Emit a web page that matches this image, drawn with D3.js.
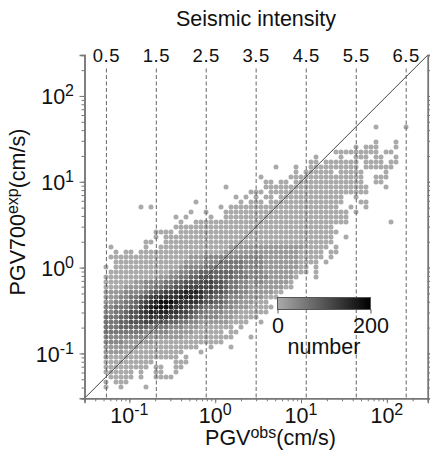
<!DOCTYPE html>
<html>
<head>
<meta charset="utf-8">
<script src="https://cdn.jsdelivr.net/npm/d3@7"></script>
<style>
  body { margin: 0; background: #fff; }
  text { font-family: "Liberation Sans", Arial, sans-serif; fill: #111; }
</style>
</head>
<body>
<div id="chart"></div>
<script>
// Define dimensions
var svgWidth = 430;
var svgHeight = 450;

// Seismic intensity boundaries
var intensityLabels = ["0.5", "1.5", "2.5", "3.5", "4.5", "5.5", "6.5"];
var intensityPgv = [0.054, 0.206, 0.786, 3.0, 11.5, 44, 168];

// Axis ticks
var decadeTicks = [0.1, 1, 10, 100];
var decadeExponents = ["-1", "0", "1", "2"];
var colorTicks = [0, 200];

// Bins of the density plot (log10 of cm/s)
var firstBinX = -1.2724;
var firstBinY = 1.638;
var binStep = 0.05826;
var countPerLevel = 20;

// One string per row of bins, top row first.
// . = empty bin, digit = count level of the bin
var densityRows = [
  ".......... .......... .......... .......... .......... ....0..... 0",
  "",
  "",
  ".......... .......... .......... .......... .......... ....0...0.",
  ".......... .......... .......... .......... .......... 0.000...0.",
  ".......... .......... .......... .......... ......0000 00000.00",
  ".......... .......... .......... .......... ..0....0.. 000.00..0.",
  ".......... .......... .......... .......... .00.000000 0.0000.00.",
  ".......... .......... .......... ....0...0. .000000000 0.000000",
  ".......... .......... .......... ........0. 000000.000 00....0",
  ".......... .......... .......... .0.....000 0000000000 00..000",
  ".......... .......... .......... ..00.00.00 0000000000 00..00",
  ".......... .......... ....0..... ..00000000 0000000000 000...0",
  ".......... .......... .........0 00.0000000 0000000000 000",
  ".......... .......... ......0.0. 0.00.00000 00000000.. 0",
  ".......... ........0. .......0.0 00.0000000 00000000.. .00",
  ".......0.0 .......... ...0.00000 0000000000 0000000..0 ..0",
  ".......... .......0.. 0...000000 0000000000 000000000. 0",
  ".......... ....0.0... .0..000000 0000000000 000000000.",
  ".......... .....0..00 0000000000 0000000000 000000000. .......0",
  ".......... ....000000 0000000000 0000000000 000000",
  ".......... 0000.00000 0000000000 0000000000 0000000",
  ".......... 0.00000000 0000000000 0000000000 000000..0",
  "........00 ..00000000 0000000000 0000000000 000000",
  ".0......0. .000000000 0000011111 1111111111 00000.0",
  "..0.00.000 0000000000 0000111111 1111111110 0000.00",
  ".000000000 0000000111 2222222222 2211111110 0000.0",
  "..00000000 0000001111 2223333322 2211111110 000.0",
  "0.00000000 0000012222 3333333322 2211111110 0.0",
  ".000000000 0001122334 4444443322 2211111100 0.0",
  "0000000000 0112233445 5544443332 222111110. ..0",
  "0000001122 2233445555 6655433221 22111110",
  "0000111122 3344556666 6655433221 11111100",
  "1111222234 5566778887 6655433221 111100",
  "1112233456 7777788877 5544322211 11000",
  "1122334567 8999877776 5544322111 000",
  "2233344678 9998776654 3333221110 0000",
  "2233455678 8887766543 2222111000 000",
  "3334455667 7776655432 2221110000 0",
  "3334455566 5554433221 111110000. .0",
  "3334444443 3332221110 000000.0..",
  "3333333322 2221111100 0000.00",
  "2222222211 1111110000 000000...0",
  "2222111111 0000000000 0000",
  "1111111000 000000000. .0...0",
  "1111000000 000000...0",
  "1000000000 00000.0",
  "0000000000 ....000",
  "000000000. 00..00",
  "000000.0.. 00..0",
  ".00000.0.. 0000",
  "0.000",
  "0..0....0."
];

var densityData = [];
densityRows.forEach(function(row, rowIndex) {
  row.replace(/ /g, "").split("").forEach(function(level, colIndex) {
    if (level !== ".") {
      densityData.push({
        obs: Math.pow(10, firstBinX + colIndex * binStep),
        exp: Math.pow(10, firstBinY - rowIndex * binStep),
        count: +level * countPerLevel
      });
    }
  });
});

var svg = d3.select("#chart")
  .append("svg")
  .attr("width", svgWidth)
  .attr("height", svgHeight);

// Scales
var xScale = d3.scaleLog().domain([0.03, 300]).range([84.5, 427.8]);
var yScale = d3.scaleLog().domain([0.03, 300]).range([398.3, 55]);
var colorScale = d3.scaleLinear().domain([0, 200]).range(["#aaaaaa", "#000000"]);

// Density dots
svg.append("g").selectAll("circle")
  .data(densityData)
  .enter()
  .append("circle")
  .attr("cx", d => xScale(d.obs))
  .attr("cy", d => yScale(d.exp))
  .attr("r", 2.5)
  .attr("fill", d => colorScale(d.count));

// Intensity lines
svg.append("g").selectAll("line")
  .data(intensityPgv)
  .enter()
  .append("line")
  .attr("x1", d => xScale(d))
  .attr("x2", d => xScale(d))
  .attr("y1", 68.5)
  .attr("y2", 398)
  .attr("stroke", "#666")
  .attr("stroke-width", 1)
  .attr("stroke-dasharray", "4,2.5");

svg.append("g").selectAll("text")
  .data(intensityLabels)
  .enter()
  .append("text")
  .attr("x", (d, i) => xScale(intensityPgv[i]))
  .attr("y", 62)
  .attr("text-anchor", "middle")
  .attr("font-size", 18.5)
  .attr("letter-spacing", 0.5)
  .text(d => d);

// 1:1 line
svg.append("line")
  .attr("x1", xScale(0.03))
  .attr("y1", yScale(0.03))
  .attr("x2", xScale(300))
  .attr("y2", yScale(300))
  .attr("stroke", "#444")
  .attr("stroke-width", 1);

// Axes: minor ticks come from the default log ticks, majors are drawn on top
function styleAxis(group) {
  group.selectAll(".domain").attr("stroke", "#777").attr("stroke-width", 1.5);
  group.selectAll(".tick line").attr("stroke", "#777");
}

var bottomMinor = d3.axisBottom(xScale).tickSize(3).tickFormat("");
var bottomMajor = d3.axisBottom(xScale).tickValues(decadeTicks).tickSize(5).tickFormat("");
var leftMinor = d3.axisLeft(yScale).tickSize(3).tickFormat("");
var leftMajor = d3.axisLeft(yScale).tickValues(decadeTicks).tickSize(5).tickFormat("");
var rightMinor = d3.axisRight(yScale).tickSize(3).tickFormat("");
var rightMajor = d3.axisRight(yScale).tickValues(decadeTicks).tickSize(5).tickFormat("");

var axisLayers = [
  [bottomMinor, 0, yScale(0.03)], [bottomMajor, 0, yScale(0.03)],
  [leftMinor, xScale(0.03), 0], [leftMajor, xScale(0.03), 0],
  [rightMinor, xScale(300), 0], [rightMajor, xScale(300), 0]
];
axisLayers.forEach(function(layer) {
  svg.append("g")
    .attr("transform", `translate(${layer[1]}, ${layer[2]})`)
    .call(layer[0])
    .call(styleAxis);
});

// Tick labels, 10 with a raised exponent
function powerLabel(x, y, anchor, exponent) {
  var label = svg.append("text")
    .attr("x", x)
    .attr("y", y)
    .attr("text-anchor", anchor)
    .attr("font-size", 21.5);
  label.append("tspan").text("10");
  label.append("tspan").attr("font-size", 16).attr("dy", -8).text(exponent);
}
decadeTicks.forEach(function(tick, i) {
  powerLabel(xScale(tick), 423, "middle", decadeExponents[i]);
  powerLabel(74, yScale(tick) + 8.5, "end", decadeExponents[i]);
});

// Axis titles
var xTitle = svg.append("text")
  .attr("x", 270.5)
  .attr("y", 445)
  .attr("text-anchor", "middle")
  .attr("font-size", 21.5);
xTitle.append("tspan").text("PGV");
xTitle.append("tspan").attr("font-size", 16).attr("dy", -7).text("obs");
xTitle.append("tspan").attr("dy", 7).text("(cm/s)");

var yTitle = svg.append("text")
  .attr("transform", "translate(25, 212) rotate(-90)")
  .attr("text-anchor", "middle")
  .attr("font-size", 21.5);
yTitle.append("tspan").text("PGV700");
yTitle.append("tspan").attr("font-size", 16).attr("dy", -7).text("exp");
yTitle.append("tspan").attr("dy", 7).text("(cm/s)");

svg.append("text")
  .attr("x", 256)
  .attr("y", 26)
  .attr("text-anchor", "middle")
  .attr("font-size", 21.5)
  .text("Seismic intensity");

// Colour bar
var barScale = d3.scaleLinear().domain(colorTicks).range([277.5, 370.5]);
var gradient = svg.append("defs")
  .append("linearGradient")
  .attr("id", "countGradient");
gradient.selectAll("stop")
  .data(colorTicks)
  .enter()
  .append("stop")
  .attr("offset", (d, i) => i * 100 + "%")
  .attr("stop-color", d => colorScale(d));

svg.append("rect")
  .attr("x", barScale(0))
  .attr("y", 297.5)
  .attr("width", barScale(200) - barScale(0))
  .attr("height", 12)
  .attr("fill", "url(#countGradient)")
  .attr("stroke", "#555")
  .attr("stroke-width", 1);

var barAxis = svg.append("g")
  .attr("transform", "translate(0, 309.5)")
  .call(d3.axisBottom(barScale).tickValues(colorTicks).tickSize(4).tickPadding(4));
barAxis.select(".domain").remove();
barAxis.selectAll(".tick line").attr("stroke", "#555");
barAxis.selectAll(".tick text")
  .attr("font-family", "Liberation Sans")
  .attr("font-size", 21.5)
  .attr("fill", "#111");

svg.append("text")
  .attr("x", 324)
  .attr("y", 354)
  .attr("text-anchor", "middle")
  .attr("font-size", 21.5)
  .text("number");
</script>
</body>
</html>
